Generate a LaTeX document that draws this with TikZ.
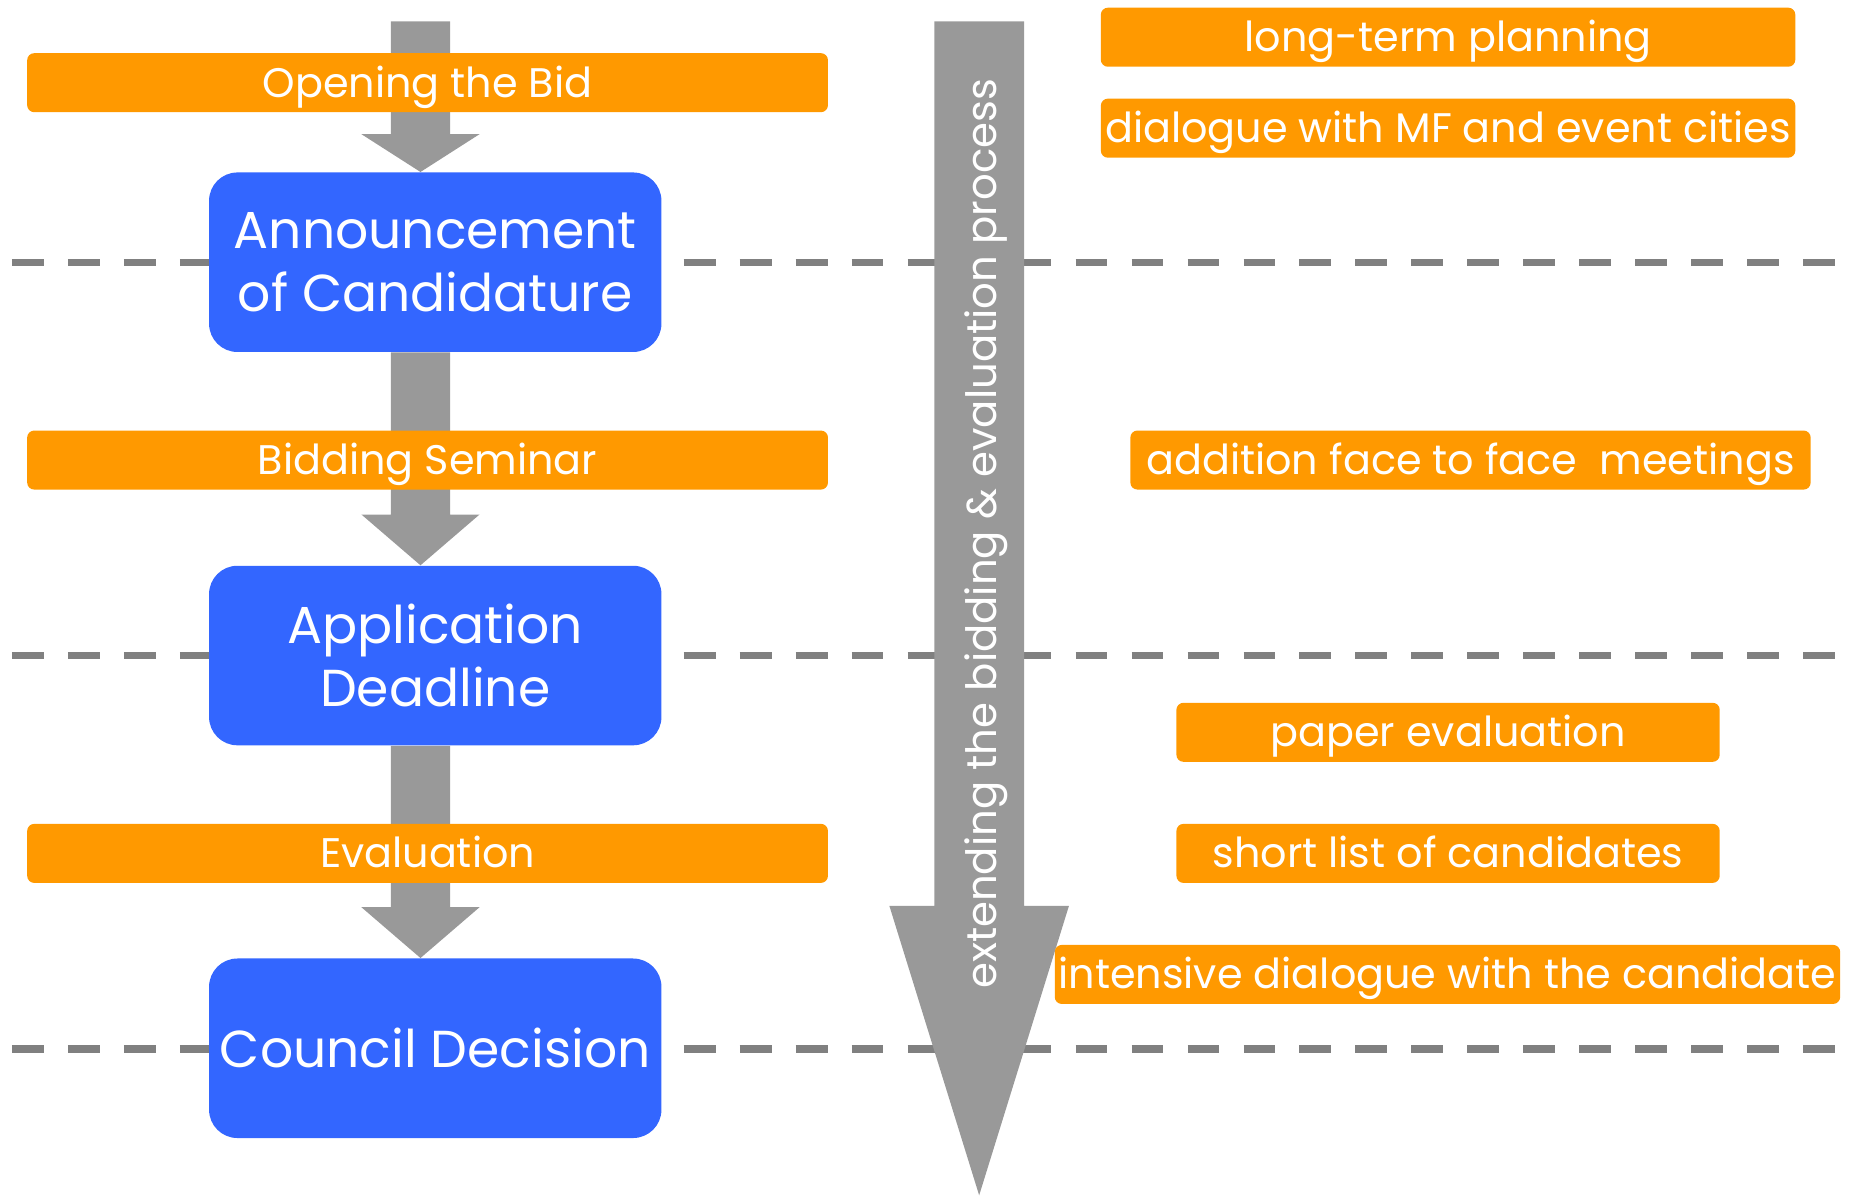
\documentclass[tikz,border=0pt]{standalone}
\usepackage{fontspec}
\setmainfont{Poppins}
\usetikzlibrary{calc}
\definecolor{orng}{HTML}{FF9900}
\definecolor{blu}{HTML}{3366FF}
\definecolor{agray}{HTML}{999999}
\definecolor{dgray}{HTML}{808080}
\begin{document}
\begin{tikzpicture}[x=0.5pt,y=-0.5pt,
  bluebox/.style={fill=blu, rounded corners=12pt, minimum width=191.5pt, minimum height=76pt,
    text=white, font=\fontsize{22}{26.5}\selectfont, align=center, inner sep=0pt},
  obar/.style={fill=orng, rounded corners=3pt, minimum height=25pt, text=white,
    font=\fontsize{17.5}{20}\selectfont, inner sep=0pt, text height=12.2pt, text depth=0pt},
  dashline/.style={draw=dgray, line width=3.1pt, dash pattern=on 13.5pt off 10.2pt},
]
\useasboundingbox (0,0) rectangle (1568,1013);

% dashed separators
\draw[dashline] (10,222) -- (1558,222);
\draw[dashline] (10,555) -- (1558,555);
\draw[dashline] (10,888) -- (1558,888);

% blue milestone boxes
\node[bluebox] (b1) at (368.5,222) {Announcement\\of Candidature};
\node[bluebox] (b2) at (368.5,555) {Application\\Deadline};
\node[bluebox] (b3) at (368.5,887.5) {Council Decision};

% left flow arrows (stem x = 356)
\coordinate (top) at (356,18);
\coordinate (t1) at (b1.north -| top);
\coordinate (s2) at (b1.south -| top);
\coordinate (t2) at (b2.north -| top);
\coordinate (s3) at (b2.south -| top);
\coordinate (t3) at (b3.north -| top);
\fill[agray] ($(top)+(-25,0)$) -- ($(t1)+(-25,-32)$) -- ($(t1)+(-50,-32)$) -- (t1)
  -- ($(t1)+(50,-32)$) -- ($(t1)+(25,-32)$) -- ($(top)+(25,0)$) -- cycle;
\fill[agray] ($(s2)+(-25,0)$) -- ($(t2)+(-25,-43)$) -- ($(t2)+(-50,-43)$) -- (t2)
  -- ($(t2)+(50,-43)$) -- ($(t2)+(25,-43)$) -- ($(s2)+(25,0)$) -- cycle;
\fill[agray] ($(s3)+(-25,0)$) -- ($(t3)+(-25,-43)$) -- ($(t3)+(-50,-43)$) -- (t3)
  -- ($(t3)+(50,-43)$) -- ($(t3)+(25,-43)$) -- ($(s3)+(25,0)$) -- cycle;

% big right arrow
\coordinate (btop) at (829,18);
\coordinate (btip) at (829,1012);
\fill[agray] ($(btop)+(-38,0)$) -- ($(btip)+(-38,-245)$) -- ($(btip)+(-76,-245)$) -- (btip)
  -- ($(btip)+(76,-245)$) -- ($(btip)+(38,-245)$) -- ($(btop)+(38,0)$) -- cycle;
\node[text=white, rotate=90, anchor=base, font=\fontsize{17.7}{20}\selectfont, inner sep=0pt] (ext) at (843.5,452)
  {extending the bidding \& evaluation process};

% left orange bars
\node[obar, minimum width=339pt] (o1) at (362,70) {Opening the Bid};
\node[obar, minimum width=339pt] (o2) at (362,389.5) {Bidding Seminar};
\node[obar, minimum width=339pt] (o3) at (362,722.5) {Evaluation};

% right orange boxes
\node[obar, minimum width=294pt] (r1) at (1226,31.5) {long-term planning};
\node[obar, minimum width=294pt] (r2) at (1226,108.5) {dialogue with MF and event cities};
\node[obar, minimum width=288pt] (r3) at (1245,389.5) {addition face to face\ \ meetings};
\node[obar, minimum width=230pt] (r4) at (1226,620) {paper evaluation};
\node[obar, minimum width=230pt] (r5) at (1226,722.5) {short list of candidates};
\node[obar, minimum width=332.5pt] (r6) at (1225.5,825) {intensive dialogue with the candidate};
\end{tikzpicture}
\end{document}
